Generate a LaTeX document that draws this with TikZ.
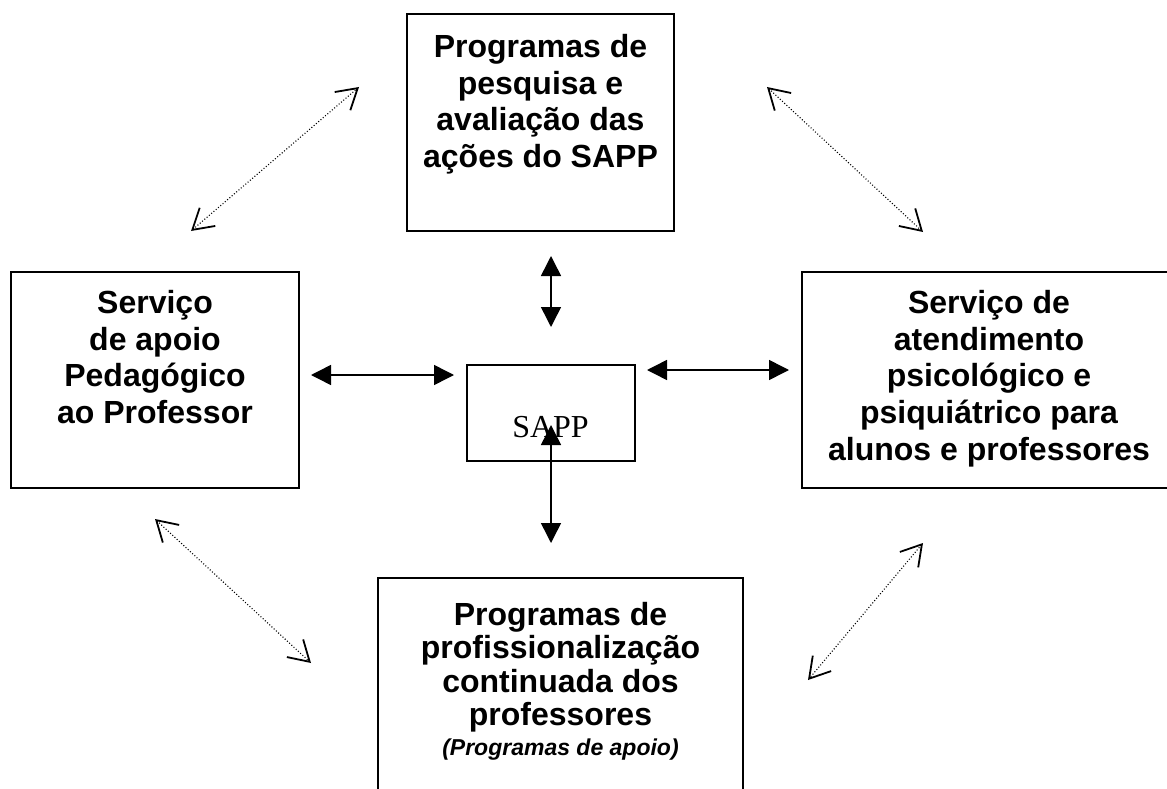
\documentclass[tikz,border=0pt]{standalone}
\usepackage{fontspec}
\setmainfont{Liberation Sans}
\newfontfamily\seriffont{Liberation Serif}
\usetikzlibrary{arrows.meta,calc}
\tikzset{
  box/.style={draw, line width=1.6pt, inner sep=0pt, fill=none},
  boxtext/.style={anchor=north, inner sep=0pt, align=center,
    font=\bfseries\fontsize{32}{36.7}\selectfont},
  solidarr/.style={line width=1.5pt,
    {Triangle[length=20pt,width=20pt]}-{Triangle[length=20pt,width=20pt]}},
  dotarr/.style={line width=1.1pt, dash pattern=on 1pt off 2pt,
    {Straight Barb[length=20pt,width=24pt,line width=1.8pt]}-{Straight Barb[length=20pt,width=24pt,line width=1.8pt]}}
}
\begin{document}
\begin{tikzpicture}[x=1pt,y=-1pt]
\useasboundingbox (0,0) rectangle (1167,789);
% boxes
\node[box, minimum width=267pt, minimum height=217pt] (top) at (540.5,122.5) {};
\node[box, minimum width=288pt, minimum height=216pt] (left) at (155,380) {};
\node[box, minimum width=385pt, minimum height=216pt] (right) at (994.5,380) {};
\node[box, line width=1.3pt, minimum width=168pt, minimum height=96pt] (sapp) at (551,413) {};
\node[box, minimum width=365pt, minimum height=222pt] (bottom) at (560.5,689) {};
% texts
\node[boxtext] (toptxt) at (540.5,34.1) {Programas de\\pesquisa e\\avaliação das\\ações do SAPP};
\node[boxtext] (lefttxt) at (155,290.1) {Serviço\\de apoio\\Pedagógico\\ao Professor};
\node[boxtext] (righttxt) at (989,290.1) {Serviço de\\atendimento\\psicológico e\\psiquiátrico para\\alunos e professores};
\node[boxtext, font=\bfseries\fontsize{32}{33.5}\selectfont] (bottxt) at (560.5,602.1) {Programas de\\profissionalização\\continuada dos\\professores};
\node[anchor=base, inner sep=0pt, font=\bfseries\itshape\fontsize{23}{27}\selectfont] (botital) at (560.5,755) {(Programas de apoio)};
\node[anchor=base, inner sep=0pt, font=\seriffont\fontsize{32}{36}\selectfont] (sapptxt) at (550.5,437) {SAPP};
% named arrow ends
\coordinate (la1) at (311,375); \coordinate (la2) at (454,375);
\coordinate (ra1) at (647,370); \coordinate (ra2) at (789,370);
\coordinate (ta1) at (551,256); \coordinate (ta2) at (551,327);
\coordinate (ba1) at (551,425); \coordinate (ba2) at (551,543);
\coordinate (d1a) at (191,231); \coordinate (d1b) at (359,87);
\coordinate (d2a) at (767,87); \coordinate (d2b) at (923,232);
\coordinate (d3a) at (155,519); \coordinate (d3b) at (311,663);
\coordinate (d4a) at (923,543); \coordinate (d4b) at (808,680);
% solid arrows
\draw[solidarr] (la1) -- (la2);
\draw[solidarr] (ra1) -- (ra2);
\draw[solidarr] (ta1) -- (ta2);
\draw[solidarr] (ba1) -- (ba2);
% dotted arrows
\draw[dotarr] (d1a) -- (d1b);
\draw[dotarr] (d2a) -- (d2b);
\draw[dotarr] (d3a) -- (d3b);
\draw[dotarr] (d4a) -- (d4b);
\end{tikzpicture}
\end{document}
